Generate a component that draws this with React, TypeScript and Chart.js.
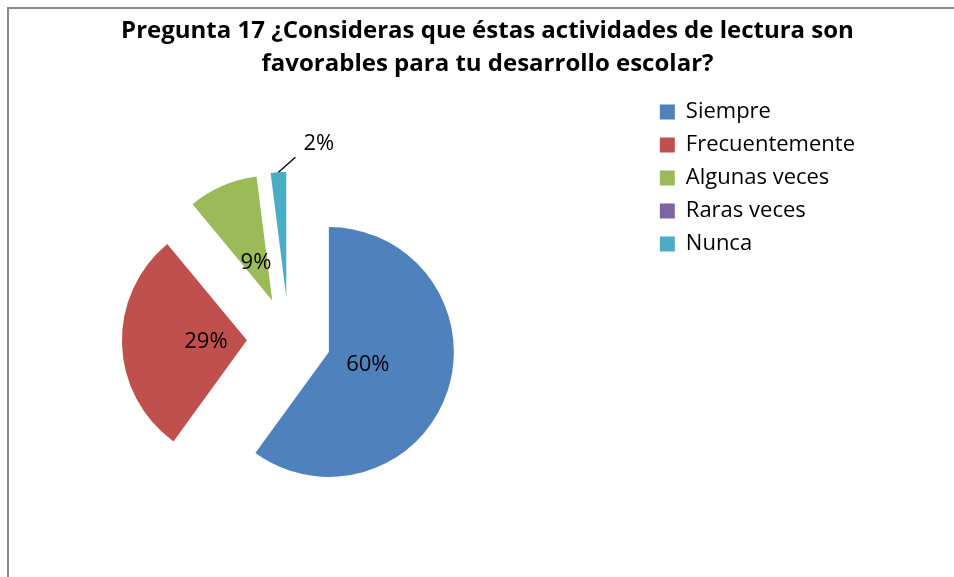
import React, { useEffect, useRef } from "react";
import { Chart, registerables } from "chart.js";

Chart.register(...registerables);

const categories = ["Siempre", "Frecuentemente", "Algunas veces", "Raras veces", "Nunca"];
const values = [60, 29, 9, 0, 2];
const colors = ["#4F81BD", "#C0504D", "#9BBB59", "#8064A2", "#4BACC6"];
const titleLines = [
  "Pregunta 17 ¿Consideras que éstas actividades de lectura son",
  "favorables para tu desarrollo escolar?",
];

const EXPLODE = 42;
const LABEL_DIST = 41;
const FONT = "'Open Sans'";
const LABEL_FONT = "normal 22px 'Open Sans'";
const LEGEND_FONT_SIZE = 22;
const LEGEND_PAD = 11;
const LEGEND_BOX = 15;

const explodePlugin = {
  id: "explode",
  beforeDatasetDraw(chart: any, args: any) {
    const ctx = chart.ctx;
    args.meta.data.forEach((arc: any) => {
      const { startAngle, endAngle, circumference } = arc.getProps(
        ["startAngle", "endAngle", "circumference"],
        true
      );
      if (!circumference) return;
      const mid = (startAngle + endAngle) / 2;
      ctx.save();
      ctx.translate(Math.cos(mid) * EXPLODE, Math.sin(mid) * EXPLODE);
      arc.draw(ctx, chart.chartArea);
      ctx.restore();
    });
    return false;
  },
};

const labelPlugin = {
  id: "pieLabels",
  afterDatasetsDraw(chart: any) {
    const ctx = chart.ctx;
    const meta = chart.getDatasetMeta(0);
    const total = values.reduce((a, b) => a + b, 0);
    ctx.save();
    ctx.font = LABEL_FONT;
    ctx.fillStyle = "#000";
    ctx.strokeStyle = "#000";
    meta.data.forEach((arc: any, i: number) => {
      const v = values[i];
      if (!v) return;
      const { x, y, startAngle, endAngle, outerRadius } = arc.getProps(
        ["x", "y", "startAngle", "endAngle", "outerRadius"],
        true
      );
      const mid = (startAngle + endAngle) / 2;
      const cx = x + Math.cos(mid) * EXPLODE;
      const cy = y + Math.sin(mid) * EXPLODE;
      const text = Math.round((v / total) * 100) + "%";
      if (v / total >= 0.05) {
        ctx.textAlign = "center";
        ctx.textBaseline = "middle";
        ctx.fillText(text, cx + Math.cos(mid) * LABEL_DIST, cy + Math.sin(mid) * LABEL_DIST);
      } else {
        const tx = cx + Math.cos(mid) * outerRadius;
        const ty = cy + Math.sin(mid) * outerRadius;
        const ex = tx + 17;
        const ey = ty - 15;
        ctx.lineWidth = 1.3;
        ctx.beginPath();
        ctx.moveTo(tx, ty);
        ctx.lineTo(ex, ey);
        ctx.stroke();
        ctx.textAlign = "left";
        ctx.textBaseline = "middle";
        ctx.fillText(text, ex + 8, ey - 14);
      }
    });
    ctx.restore();
  },
};

const CANVAS_LEFT = -71;

export default function App() {
  const ref = useRef<HTMLCanvasElement>(null);

  useEffect(() => {
    const prevMargin = document.body.style.margin;
    const prevOverflow = document.body.style.overflow;
    document.body.style.margin = "0";
    document.body.style.overflow = "hidden";

    const canvas = ref.current!;
    const m = document.createElement("canvas").getContext("2d")!;
    m.font = `normal ${LEGEND_FONT_SIZE}px ${FONT}`;
    const tw = Math.max(...categories.map((c) => m.measureText(c).width));
    // Chart.js vertical legend width: padding + box + font/2 + text + 10
    const legendWidth = LEGEND_PAD + LEGEND_BOX + LEGEND_FONT_SIZE / 2 + tw + 10;
    const legendLeft = 660 - LEGEND_PAD - CANVAS_LEFT;
    const width = Math.round(legendLeft + legendWidth);
    const height = 588;
    canvas.width = width;
    canvas.height = height;
    canvas.style.width = width + "px";
    canvas.style.height = height + "px";

    const chart = new Chart(canvas, {
      type: "pie",
      data: {
        labels: categories,
        datasets: [
          {
            data: values,
            backgroundColor: colors,
            borderWidth: 0,
            radius: 125,
          } as any,
        ],
      },
      options: {
        responsive: false,
        devicePixelRatio: 1,
        animation: false,
        events: [],
        layout: { padding: { top: 90, left: 0, right: 0, bottom: 0 } },
        plugins: {
          title: { display: false },
          tooltip: { enabled: false },
          legend: {
            display: true,
            position: "right",
            align: "start",
            labels: {
              boxWidth: LEGEND_BOX,
              boxHeight: LEGEND_BOX,
              padding: LEGEND_PAD,
              color: "#000",
              font: { family: FONT, size: LEGEND_FONT_SIZE },
            },
          },
        },
      },
      plugins: [explodePlugin, labelPlugin],
    });

    return () => {
      chart.destroy();
      document.body.style.margin = prevMargin;
      document.body.style.overflow = prevOverflow;
    };
  }, []);

  return (
    <div
      style={{
        position: "relative",
        width: 954,
        height: 577,
        overflow: "hidden",
        background: "#fff",
      }}
    >
      <canvas ref={ref} style={{ position: "absolute", left: CANVAS_LEFT, top: 0 }} />
      <div
        style={{
          position: "absolute",
          left: 0,
          top: 12,
          width: 975,
          textAlign: "center",
          fontFamily: FONT,
          fontWeight: 700,
          fontSize: 24,
          lineHeight: "33px",
          color: "#000",
        }}
      >
        {titleLines.map((t, i) => (
          <div key={i}>{t}</div>
        ))}
      </div>
      <div
        style={{
          position: "absolute",
          left: 7,
          top: 7,
          width: 1000,
          height: 1000,
          borderLeft: "2px solid #8a8a8a",
          borderTop: "2px solid #8a8a8a",
          pointerEvents: "none",
        }}
      />
    </div>
  );
}
